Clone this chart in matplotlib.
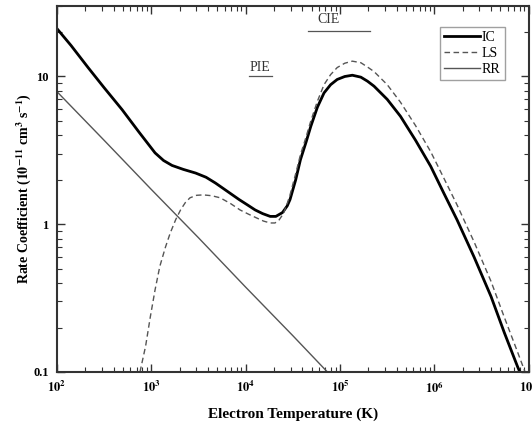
import matplotlib
matplotlib.use("Agg")
import matplotlib.pyplot as plt
from matplotlib.ticker import LogLocator, FixedLocator, NullFormatter

# Values (log10 of temperature, rate coefficient)
ic_logt = [2.00, 2.15, 2.33, 2.50, 2.69, 2.87, 3.04, 3.13, 3.22, 3.34, 3.47, 3.58, 3.68,
           3.80, 3.93, 4.02, 4.10, 4.18, 4.26, 4.32, 4.39, 4.44, 4.47, 4.53, 4.58, 4.64,
           4.69, 4.76, 4.83, 4.90, 4.97, 5.05, 5.13, 5.22, 5.29, 5.36, 5.50, 5.64, 5.80,
           5.96, 6.10, 6.24, 6.42, 6.60, 6.74, 6.88, 6.905]
ic_vals = [21.1, 16.2, 11.5, 8.4, 5.97, 4.20, 3.04, 2.70, 2.50, 2.35, 2.22, 2.08, 1.90,
           1.68, 1.47, 1.35, 1.25, 1.18, 1.13, 1.13, 1.20, 1.33, 1.47, 2.00, 2.73, 3.60,
           4.60, 6.20, 7.74, 8.80, 9.55, 10.0, 10.2, 9.90, 9.30, 8.60, 7.00, 5.38, 3.70,
           2.47, 1.62, 1.07, 0.60, 0.324, 0.185, 0.109, 0.10]

ls_logt = [2.88, 2.94, 2.99, 3.04, 3.09, 3.15, 3.20, 3.26, 3.31, 3.36, 3.41, 3.48, 3.55,
           3.64, 3.73, 3.84, 3.94, 4.03, 4.12, 4.19, 4.26, 4.31, 4.35, 4.40, 4.44, 4.47,
           4.53, 4.58, 4.64, 4.69, 4.76, 4.83, 4.90, 4.97, 5.05, 5.13, 5.22, 5.29, 5.36,
           5.50, 5.64, 5.80, 5.96, 6.10, 6.24, 6.42, 6.60, 6.74, 6.88, 6.96]
ls_vals = [0.10, 0.15, 0.237, 0.36, 0.518, 0.70, 0.87, 1.08, 1.25, 1.40, 1.51, 1.57, 1.58,
           1.56, 1.51, 1.38, 1.25, 1.17, 1.10, 1.05, 1.02, 1.02, 1.06, 1.18, 1.38, 1.58,
           2.20, 2.95, 3.90, 5.00, 6.80, 8.80, 10.3, 11.5, 12.3, 12.7, 12.4, 11.6, 10.8,
           8.80, 6.70, 4.65, 3.10, 2.05, 1.35, 0.76, 0.41, 0.235, 0.137, 0.10]

rr_logt = [2.00, 2.50, 3.00, 3.50, 4.00, 4.50, 4.866]
rr_vals = [7.9, 3.7, 1.72, 0.81, 0.375, 0.176, 0.10]

ic_t = [10 ** v for v in ic_logt]
ls_t = [10 ** v for v in ls_logt]
rr_t = [10 ** v for v in rr_logt]

xtick_vals = [1e2, 1e3, 1e4, 1e5, 1e6, 1e7]
xtick_labels = [r"$\mathbf{10^{%d}}$" % e for e in range(2, 8)]
ytick_vals = [0.1, 1, 10]
ytick_labels = ["0.1", "1", "10"]

plt.rcParams["font.family"] = ["Liberation Serif", "DejaVu Serif"]
plt.rcParams["mathtext.fontset"] = "stix"

fig = plt.figure(figsize=(5.32, 4.23), dpi=100)
ax = fig.add_axes([0.107, 0.1206, 0.887, 0.8652])

ax.plot(ic_t, ic_vals, color="black", lw=2.0, label="IC")
ax.plot(ls_t, ls_vals, color="#555555", lw=1.0, ls=(0, (4, 2.5)), label="LS")
ax.plot(rr_t, rr_vals, color="#555555", lw=1.0, label="RR")

ax.set_xscale("log")
ax.set_yscale("log")
ax.set_xlim(1e2, 1e7)
ax.set_ylim(0.1, 30)

ax.xaxis.set_major_locator(FixedLocator(xtick_vals))
ax.set_xticklabels(xtick_labels)
ax.xaxis.set_minor_locator(LogLocator(base=10, subs=range(2, 10)))
ax.xaxis.set_minor_formatter(NullFormatter())
ax.yaxis.set_major_locator(FixedLocator(ytick_vals))
ax.set_yticklabels(ytick_labels)
ax.yaxis.set_minor_locator(LogLocator(base=10, subs=range(2, 10)))
ax.yaxis.set_minor_formatter(NullFormatter())

ax.tick_params(which="both", direction="in", top=True, right=True, color="#333333")
ax.tick_params(which="major", length=6, width=1.0, labelsize=9, pad=6)
ax.tick_params(which="minor", length=3.5, width=0.8)
for lab in ax.get_xticklabels() + ax.get_yticklabels():
    lab.set_fontweight("bold")
for sp in ax.spines.values():
    sp.set_linewidth(1.5)
    sp.set_color("#333333")

ax.set_xlabel("Electron Temperature (K)", fontsize=11, fontweight="bold", labelpad=8)
ax.set_ylabel(r"Rate Coefficient ($\mathbf{10^{-11}}$ cm$^\mathbf{3}$ s$^\mathbf{-1}$)",
              fontsize=10, fontweight="bold")
ax.yaxis.set_label_coords(-0.05, 0.5)

# temperature ranges of peak abundance
ax.text(10 ** 4.155, 11.5, "PIE", ha="center", va="center", fontsize=10, color="#333333")
ax.plot([10 ** 4.03, 10 ** 4.28], [10.0, 10.0], color="#555555", lw=0.9)
ax.text(10 ** 4.877, 24.3, "CIE", ha="center", va="center", fontsize=10, color="#333333")
ax.plot([10 ** 4.66, 10 ** 5.32], [20.2, 20.2], color="#555555", lw=0.9)

leg = ax.legend(loc="upper right", bbox_to_anchor=(0.949, 0.943), fontsize=10,
                handlelength=2.6, handletextpad=0.1, borderpad=0.3, labelspacing=0.2,
                fancybox=False, borderaxespad=0)
leg.get_frame().set_edgecolor("#888888")
leg.get_frame().set_linewidth(1.0)

fig.savefig("out.png", dpi=100)
